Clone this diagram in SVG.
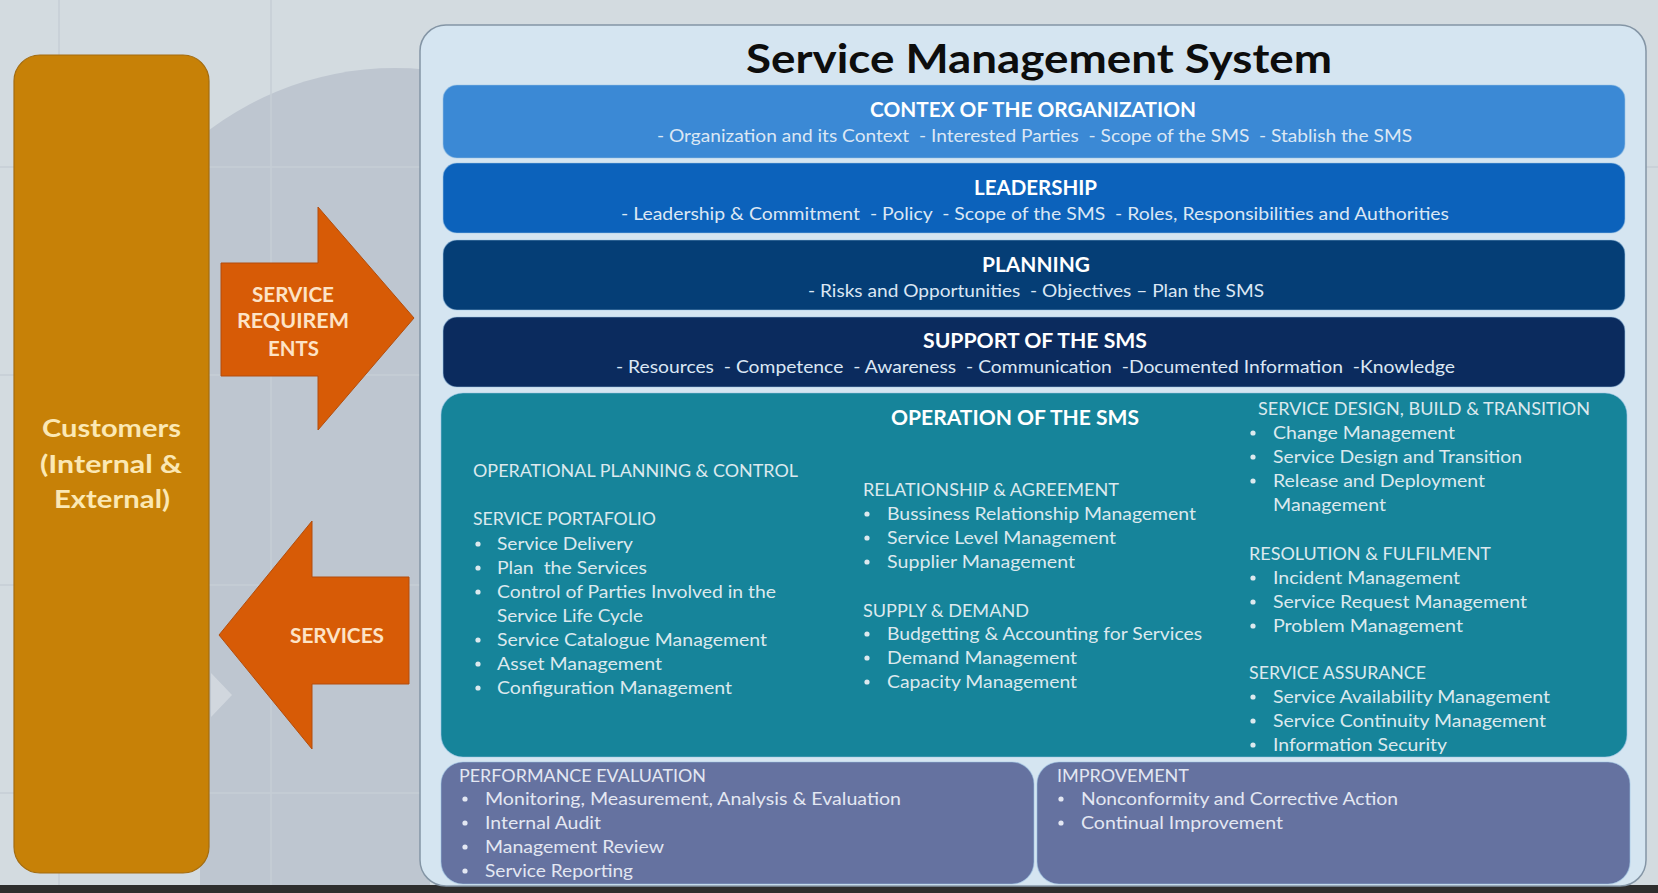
<svg xmlns="http://www.w3.org/2000/svg" width="1658" height="893" viewBox="0 0 1658 893">
<defs>
<style>
.bg{fill:#d3dbe0}
.grid{stroke:#c6ced5;stroke-width:1.5;fill:none}
.tb{font-family:Lato,"Open Sans","Liberation Sans",sans-serif;font-weight:700}
.tr{font-family:Lato,"Open Sans","Liberation Sans",sans-serif;font-weight:400}
.bt{font-size:20px;fill:#ffffff}
.bs{font-size:17.5px;fill:#dbe7f4}
.ot{font-size:18px;fill:#dce9ee}
.pt{font-size:18px;fill:#e3e7f2}
.band{stroke:#9cc3e6;stroke-opacity:0.5;stroke-width:1.2}
.bul{fill:#dce9ee}
.bulp{fill:#e3e7f2}
.arrow{fill:#d75b06;stroke:#b34d0c;stroke-width:1}
.at{font-size:20px;fill:#fde3c6}
</style>
</defs>
<rect class="bg" x="0" y="0" width="1658" height="893"/>
<circle cx="395" cy="377" r="309" fill="#bec6d0"/>
<rect x="200" y="377" width="230" height="510" fill="#bec6d0"/>
<path class="grid" d="M59 0V885M271 0V885M0 167H1658M0 375H420M0 585H420M0 793H420"/>
<path d="M211 673 L232 695 L211 717 Z" fill="#ffffff" opacity="0.3"/>
<rect x="0" y="885" width="1658" height="8" fill="#2e2e2e"/>

<g id="customers">
<rect x="14" y="55" width="195" height="818" rx="26" fill="#c78107" stroke="#a36c10" stroke-width="1.2"/>
<text class="tb" font-size="24" fill="#fbe8b4" x="42" y="437" textLength="139" lengthAdjust="spacingAndGlyphs">Customers</text>
<text class="tb" font-size="24" fill="#fbe8b4" x="40" y="473" textLength="142" lengthAdjust="spacingAndGlyphs">(Internal &amp;</text>
<text class="tb" font-size="24" fill="#fbe8b4" x="54" y="508" textLength="116" lengthAdjust="spacingAndGlyphs">External)</text>
</g>

<g id="connectors">
<g id="service-requirements">
<path class="arrow" d="M221 263 H318 V207 L414 318 L318 430 V376 H221 Z"/>
<text class="tb at" x="252" y="302" textLength="82" lengthAdjust="spacingAndGlyphs">SERVICE</text>
<text class="tb at" x="237" y="328" textLength="112" lengthAdjust="spacingAndGlyphs">REQUIREM</text>
<text class="tb at" x="268" y="356" textLength="51" lengthAdjust="spacingAndGlyphs">ENTS</text>
</g>
<g id="services">
<path class="arrow" d="M409 577 H312 V521 L219 635 L312 749 V684 H409 Z"/>
<text class="tb at" x="290" y="643" textLength="94" lengthAdjust="spacingAndGlyphs">SERVICES</text>
</g>
</g>

<g id="sms">
<rect x="420" y="25" width="1226" height="861" rx="26" fill="#d5e5f1" stroke="#8495a5" stroke-width="1.5"/>
<text class="tb" font-size="40" fill="#0d0d0d" x="746" y="73" textLength="586" lengthAdjust="spacingAndGlyphs">Service Management System</text>
</g>

<g id="context">
<rect class="band" x="443" y="85" width="1182" height="73" rx="14" fill="#3b89d5"/>
<text class="tb bt" x="870" y="117" textLength="326" lengthAdjust="spacingAndGlyphs">CONTEX OF THE ORGANIZATION</text>
<text class="tr bs" x="657" y="142" textLength="755" lengthAdjust="spacingAndGlyphs">- Organization and its Context&#160; - Interested Parties&#160; - Scope of the SMS&#160; - Stablish the SMS</text>
</g>

<g id="leadership">
<rect class="band" x="443" y="163" width="1182" height="70" rx="14" fill="#0c62bb"/>
<text class="tb bt" x="974" y="195" textLength="123" lengthAdjust="spacingAndGlyphs">LEADERSHIP</text>
<text class="tr bs" x="621" y="220" textLength="828" lengthAdjust="spacingAndGlyphs">- Leadership &amp; Commitment&#160; - Policy&#160; - Scope of the SMS&#160; - Roles, Responsibilities and Authorities</text>
</g>

<g id="planning">
<rect class="band" x="443" y="240" width="1182" height="70" rx="14" fill="#053e76"/>
<text class="tb bt" x="982" y="272" textLength="108" lengthAdjust="spacingAndGlyphs">PLANNING</text>
<text class="tr bs" x="808" y="297" textLength="456" lengthAdjust="spacingAndGlyphs">- Risks and Opportunities&#160; - Objectives – Plan the SMS</text>
</g>

<g id="support">
<rect class="band" x="443" y="317" width="1182" height="70" rx="14" fill="#0b2b5e"/>
<text class="tb bt" x="923" y="348" textLength="224" lengthAdjust="spacingAndGlyphs">SUPPORT OF THE SMS</text>
<text class="tr bs" x="616" y="373" textLength="839" lengthAdjust="spacingAndGlyphs">- Resources&#160; - Competence&#160; - Awareness&#160; - Communication&#160; -Documented Information&#160; -Knowledge</text>
</g>

<g id="operation">
<rect class="band" x="441" y="393" width="1186" height="364" rx="22" fill="#16849a"/>
<text class="tb bt" x="891" y="425" textLength="248" lengthAdjust="spacingAndGlyphs">OPERATION OF THE SMS</text>

<text class="tr ot" x="473" y="477" textLength="325" lengthAdjust="spacingAndGlyphs">OPERATIONAL PLANNING &amp; CONTROL</text>
<text class="tr ot" x="473" y="525" textLength="183" lengthAdjust="spacingAndGlyphs">SERVICE PORTAFOLIO</text>
<g class="bul">
<circle cx="478" cy="544" r="2.6"/><circle cx="478" cy="568" r="2.6"/><circle cx="478" cy="592" r="2.6"/>
<circle cx="478" cy="640" r="2.6"/><circle cx="478" cy="664" r="2.6"/><circle cx="478" cy="688" r="2.6"/>
</g>
<text class="tr ot" x="497" y="550" textLength="136" lengthAdjust="spacingAndGlyphs">Service Delivery</text>
<text class="tr ot" x="497" y="574" textLength="150" lengthAdjust="spacingAndGlyphs">Plan&#160; the Services</text>
<text class="tr ot" x="497" y="598" textLength="279" lengthAdjust="spacingAndGlyphs">Control of Parties Involved in the</text>
<text class="tr ot" x="497" y="622" textLength="146" lengthAdjust="spacingAndGlyphs">Service Life Cycle</text>
<text class="tr ot" x="497" y="646" textLength="270" lengthAdjust="spacingAndGlyphs">Service Catalogue Management</text>
<text class="tr ot" x="497" y="670" textLength="165" lengthAdjust="spacingAndGlyphs">Asset Management</text>
<text class="tr ot" x="497" y="694" textLength="235" lengthAdjust="spacingAndGlyphs">Configuration Management</text>

<text class="tr ot" x="863" y="496" textLength="256" lengthAdjust="spacingAndGlyphs">RELATIONSHIP &amp; AGREEMENT</text>
<g class="bul">
<circle cx="867" cy="514" r="2.6"/><circle cx="867" cy="538" r="2.6"/><circle cx="867" cy="562" r="2.6"/>
<circle cx="867" cy="634" r="2.6"/><circle cx="867" cy="658" r="2.6"/><circle cx="867" cy="682" r="2.6"/>
</g>
<text class="tr ot" x="887" y="520" textLength="309" lengthAdjust="spacingAndGlyphs">Bussiness Relationship Management</text>
<text class="tr ot" x="887" y="544" textLength="229" lengthAdjust="spacingAndGlyphs">Service Level Management</text>
<text class="tr ot" x="887" y="568" textLength="188" lengthAdjust="spacingAndGlyphs">Supplier Management</text>
<text class="tr ot" x="863" y="617" textLength="166" lengthAdjust="spacingAndGlyphs">SUPPLY &amp; DEMAND</text>
<text class="tr ot" x="887" y="640" textLength="315" lengthAdjust="spacingAndGlyphs">Budgetting &amp; Accounting for Services</text>
<text class="tr ot" x="887" y="664" textLength="190" lengthAdjust="spacingAndGlyphs">Demand Management</text>
<text class="tr ot" x="887" y="688" textLength="190" lengthAdjust="spacingAndGlyphs">Capacity Management</text>

<text class="tr ot" x="1258" y="415" textLength="332" lengthAdjust="spacingAndGlyphs">SERVICE DESIGN, BUILD &amp; TRANSITION</text>
<g class="bul">
<circle cx="1253" cy="433" r="2.6"/><circle cx="1253" cy="457" r="2.6"/><circle cx="1253" cy="481" r="2.6"/>
<circle cx="1253" cy="578" r="2.6"/><circle cx="1253" cy="602" r="2.6"/><circle cx="1253" cy="626" r="2.6"/>
<circle cx="1253" cy="697" r="2.6"/><circle cx="1253" cy="721" r="2.6"/><circle cx="1253" cy="745" r="2.6"/>
</g>
<text class="tr ot" x="1273" y="439" textLength="182" lengthAdjust="spacingAndGlyphs">Change Management</text>
<text class="tr ot" x="1273" y="463" textLength="249" lengthAdjust="spacingAndGlyphs">Service Design and Transition</text>
<text class="tr ot" x="1273" y="487" textLength="212" lengthAdjust="spacingAndGlyphs">Release and Deployment</text>
<text class="tr ot" x="1273" y="511" textLength="113" lengthAdjust="spacingAndGlyphs">Management</text>
<text class="tr ot" x="1249" y="560" textLength="242" lengthAdjust="spacingAndGlyphs">RESOLUTION &amp; FULFILMENT</text>
<text class="tr ot" x="1273" y="584" textLength="187" lengthAdjust="spacingAndGlyphs">Incident Management</text>
<text class="tr ot" x="1273" y="608" textLength="254" lengthAdjust="spacingAndGlyphs">Service Request Management</text>
<text class="tr ot" x="1273" y="632" textLength="190" lengthAdjust="spacingAndGlyphs">Problem Management</text>
<text class="tr ot" x="1249" y="679" textLength="177" lengthAdjust="spacingAndGlyphs">SERVICE ASSURANCE</text>
<text class="tr ot" x="1273" y="703" textLength="277" lengthAdjust="spacingAndGlyphs">Service Availability Management</text>
<text class="tr ot" x="1273" y="727" textLength="273" lengthAdjust="spacingAndGlyphs">Service Continuity Management</text>
<text class="tr ot" x="1273" y="751" textLength="174" lengthAdjust="spacingAndGlyphs">Information Security</text>
</g>

<g id="performance-evaluation">
<rect class="band" x="441" y="762" width="593" height="122" rx="22" fill="#6572a0"/>
<text class="tr pt" x="459" y="782" textLength="247" lengthAdjust="spacingAndGlyphs">PERFORMANCE EVALUATION</text>
<g class="bulp">
<circle cx="465" cy="799" r="2.6"/><circle cx="465" cy="823" r="2.6"/><circle cx="465" cy="847" r="2.6"/><circle cx="465" cy="871" r="2.6"/>
</g>
<text class="tr pt" x="485" y="805" textLength="416" lengthAdjust="spacingAndGlyphs">Monitoring, Measurement, Analysis &amp; Evaluation</text>
<text class="tr pt" x="485" y="829" textLength="116" lengthAdjust="spacingAndGlyphs">Internal Audit</text>
<text class="tr pt" x="485" y="853" textLength="179" lengthAdjust="spacingAndGlyphs">Management Review</text>
<text class="tr pt" x="485" y="877" textLength="148" lengthAdjust="spacingAndGlyphs">Service Reporting</text>
</g>

<g id="improvement">
<rect class="band" x="1037" y="762" width="593" height="122" rx="22" fill="#6572a0"/>
<text class="tr pt" x="1057" y="782" textLength="132" lengthAdjust="spacingAndGlyphs">IMPROVEMENT</text>
<g class="bulp">
<circle cx="1061" cy="799" r="2.6"/><circle cx="1061" cy="823" r="2.6"/>
</g>
<text class="tr pt" x="1081" y="805" textLength="317" lengthAdjust="spacingAndGlyphs">Nonconformity and Corrective Action</text>
<text class="tr pt" x="1081" y="829" textLength="202" lengthAdjust="spacingAndGlyphs">Continual Improvement</text>
</g>
</svg>
